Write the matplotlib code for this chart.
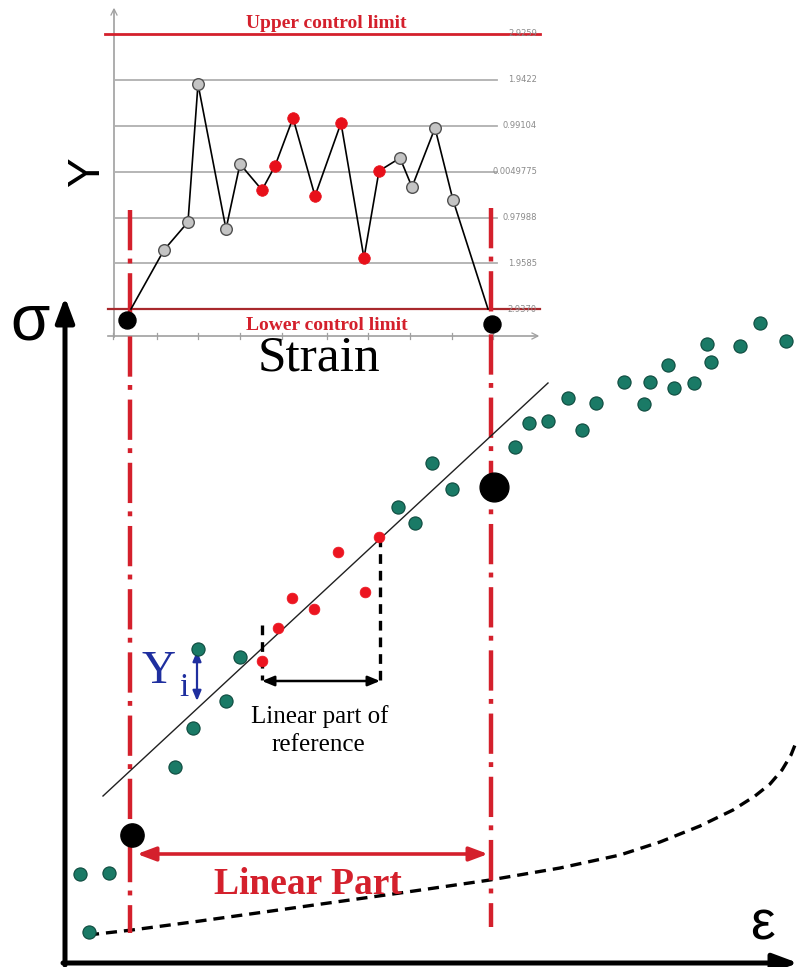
import matplotlib
matplotlib.use("Agg")
import matplotlib.pyplot as plt

plt.rcParams['lines.scale_dashes'] = False

# ---------------- data (diagram pixel coordinates) ----------------
# inset control chart
ctrl_level_y = [34, 80, 126, 172, 218, 263, 309]
ctrl_labels = ["2.9259", "1.9422", "0.99104", "0.0049775", "0.97988", "1.9585", "2.9370"]
inset_tick_x = [113, 157, 198, 240, 282, 327, 368, 410, 452, 493]

inset_line_x = [131, 164, 188, 198, 226, 240, 262, 275, 293, 315, 341, 364, 379, 400, 412, 435, 453, 488]
inset_line_y = [309, 250, 222, 84, 229, 164, 190, 166, 118, 196, 123, 258, 171, 158, 187, 128, 200, 309]
inset_gray_x = [164, 188, 198, 226, 240, 400, 412, 435, 453]
inset_gray_y = [250, 222, 84, 229, 164, 158, 187, 128, 200]
inset_red_x = [262, 275, 293, 315, 341, 364, 379]
inset_red_y = [190, 166, 118, 196, 123, 258, 171]
inset_black_x = [127, 492]
inset_black_y = [320, 324]

# main stress-strain diagram
green_x = [89, 80, 109, 175, 193, 226, 198, 240, 398, 415, 432, 452, 515, 529, 548, 568, 582,
           596, 624, 644, 650, 668, 674, 694, 707, 711, 740, 760, 786]
green_y = [932, 874, 873, 767, 728, 701, 649, 657, 507, 523, 463, 489, 447, 423, 421, 398, 430,
           403, 382, 404, 382, 365, 388, 383, 344, 362, 346, 323, 341]
red_x = [262, 278, 292, 314, 338, 365, 379]
red_y = [661, 628, 598, 609, 552, 592, 537]
black_x = [132, 494]
black_y = [835, 487]
fit_x = [103, 548]
fit_y = [796, 383]
curve_x = [88, 132, 200, 300, 400, 490, 560, 620, 660, 700, 733, 755, 770, 782, 791, 797]
curve_y = [935, 930, 921, 907, 893, 880, 868, 855, 842, 826, 810, 796, 784, 770, 755, 740]
limit_x = [130, 491]
limit_top = [210, 208]
limit_bot = [933, 927]

# ---------------- figure ----------------
fig = plt.figure(figsize=(7.98, 9.67), dpi=100)
ax = fig.add_axes([0, 0, 1, 1])
ax.set_xlim(0, 798)
ax.set_ylim(967, 0)
ax.axis('off')

serif = 'Liberation Serif'
sans = 'Liberation Sans'
red = '#d4202c'
dred = '#a8282c'

# inset axes (gray)
ax.plot([114, 114], [10, 337], color='#a0a0a0', lw=1.2, zorder=1)
ax.plot([108, 537], [336, 336], color='#a0a0a0', lw=1.2, zorder=1)
ax.plot([111, 114, 117], [15, 9, 15], color='#a0a0a0', lw=0.9, zorder=1)
ax.plot([532, 538, 532], [333, 336, 339], color='#a0a0a0', lw=0.9, zorder=1)
for tx in inset_tick_x:
    ax.plot([tx, tx], [333, 339], color='#a0a0a0', lw=0.9, zorder=1)

# control levels
for i, (ly, lab) in enumerate(zip(ctrl_level_y, ctrl_labels)):
    if i == 0:
        ax.plot([105, 540], [ly, ly], color=red, lw=2.0, zorder=2)
    elif i == len(ctrl_level_y) - 1:
        ax.plot([108, 540], [ly, ly], color=dred, lw=1.6, zorder=2)
    else:
        ax.plot([114, 497], [ly, ly], color='#b0b0b0', lw=1.3, zorder=1)
    ax.text(537, ly, lab, ha='right', va='center', fontsize=6, color='#8a8a8a',
            family='DejaVu Sans', zorder=3)

ax.text(326, 24, "Upper control limit", ha='center', va='center', fontsize=14,
        color=red, family=serif, fontweight='bold', zorder=4)
ax.text(327, 325, "Lower control limit", ha='center', va='center', fontsize=14,
        color=red, family=serif, fontweight='bold', zorder=4)
ax.text(88, 172, "Y", ha='center', va='center', fontsize=32, rotation=90,
        family=sans, color='black')
ax.text(319, 358, "Strain", ha='center', va='center', fontsize=37, family=serif, color='black')

# inset series
ax.plot(inset_line_x, inset_line_y, color='black', lw=1.2, zorder=4)
ax.scatter(inset_gray_x, inset_gray_y, s=70, c='#c4c4c4', edgecolors='#505050',
           linewidths=1.0, zorder=5)
ax.scatter(inset_red_x, inset_red_y, s=70, c='#e8101a', edgecolors='#e8101a',
           linewidths=0.5, zorder=5)

# red dash-dot limit lines
for x0, y0, y1 in zip(limit_x, limit_top, limit_bot):
    ax.plot([x0, x0], [y0, y1], color=red, lw=3.2, linestyle=(0, (29, 6, 3.5, 7)), zorder=3)

ax.scatter(inset_black_x, inset_black_y, s=150, c='black', zorder=6)

# main axes with arrows
ax.annotate('', xy=(65, 297), xytext=(65, 965), annotation_clip=False,
            arrowprops=dict(arrowstyle='-|>,head_width=0.28,head_length=0.75', lw=3.6,
                            color='black', shrinkA=0, shrinkB=0, mutation_scale=20))
ax.annotate('', xy=(798, 963), xytext=(63, 963), annotation_clip=False,
            arrowprops=dict(arrowstyle='-|>,head_width=0.28,head_length=0.75', lw=3.6,
                            color='black', shrinkA=0, shrinkB=0, mutation_scale=20))
ax.text(30, 322, "σ", ha='center', va='center', fontsize=46, family=sans, color='black')
ax.text(762, 925, "ε", ha='center', va='center', fontsize=40, family=sans, color='black')

# fit line
ax.plot(fit_x, fit_y, color='#202020', lw=1.0, zorder=3)

# dashed curve
ax.plot(curve_x, curve_y, color='black', lw=2.4, linestyle=(0, (8, 5)), zorder=2)

# data points
ax.scatter(green_x, green_y, s=90, c='#1a7a66', edgecolors='#0e4a3e', linewidths=0.8, zorder=5)
ax.scatter(red_x, red_y, s=60, c='#ec1520', edgecolors='#ec1520', linewidths=0.5, zorder=5)
ax.scatter(black_x[:1], black_y[:1], s=280, c='black', zorder=6)
ax.scatter(black_x[1:], black_y[1:], s=430, c='black', zorder=6)

# reference linear part
ax.plot([262, 262], [625, 680], color='black', lw=2.4, linestyle=(0, (7, 5)), zorder=4)
ax.plot([380, 380], [537, 680], color='black', lw=2.4, linestyle=(0, (7, 5)), zorder=4)
ax.annotate('', xy=(262, 681), xytext=(380, 681),
            arrowprops=dict(arrowstyle='<|-|>,head_width=0.25,head_length=0.6', lw=1.8,
                            color='black', shrinkA=0, shrinkB=0, mutation_scale=12))
ax.text(320, 717, "Linear part of", ha='center', va='center', fontsize=18, family=serif)
ax.text(318, 745, "reference", ha='center', va='center', fontsize=18, family=serif)

# Y_i
ax.annotate('', xy=(197, 651), xytext=(197, 701),
            arrowprops=dict(arrowstyle='<|-|>,head_width=0.25,head_length=0.6', lw=1.6,
                            color='#1f2f9f', shrinkA=0, shrinkB=0, mutation_scale=10))
ax.text(159, 672, "Y", ha='center', va='center', fontsize=34, family=serif, color='#1f2f9f')
ax.text(184, 688, "i", ha='center', va='center', fontsize=24, family=serif, color='#1f2f9f')

# Linear part arrow
ax.annotate('', xy=(137, 854), xytext=(488, 854),
            arrowprops=dict(arrowstyle='<|-|>,head_width=0.3,head_length=0.8', lw=2.6,
                            color=red, shrinkA=0, shrinkB=0, mutation_scale=14))
ax.text(308, 884, "Linear Part", ha='center', va='center', fontsize=27, family=serif,
        fontweight='bold', color=red)

fig.savefig("out.png", dpi=100)
